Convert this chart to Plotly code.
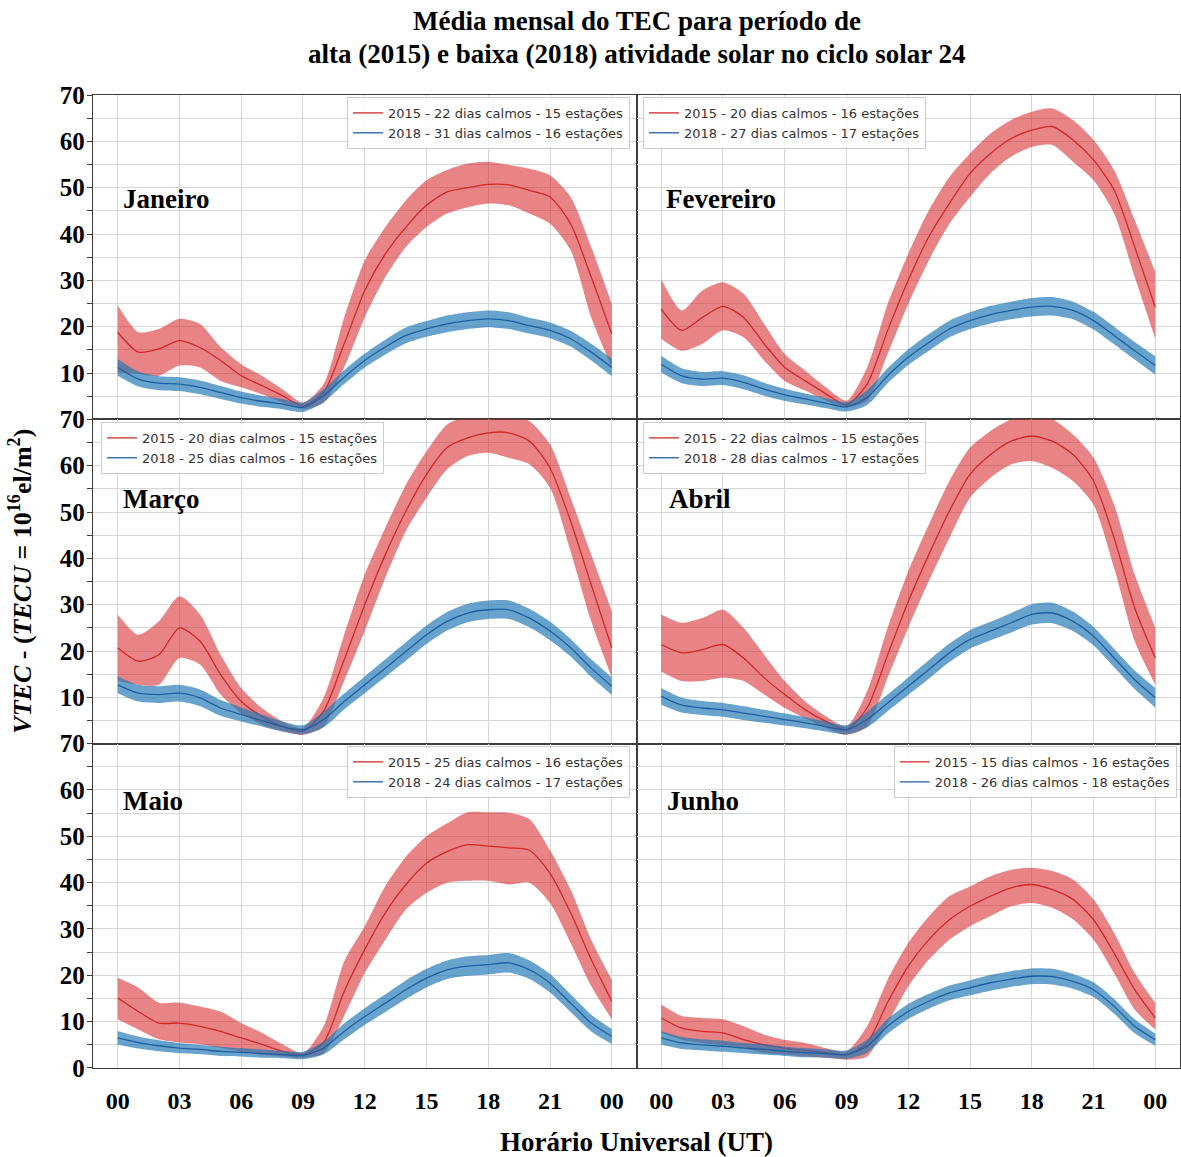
import plotly.graph_objects as go
from plotly.subplots import make_subplots

# ---------------- data ----------------
hours = list(range(25))
tick_hours = [0, 3, 6, 9, 12, 15, 18, 21, 24]
tick_labels = ["00", "03", "06", "09", "12", "15", "18", "21", "00"]
y_ticks = list(range(0, 75, 5))

months = ["Janeiro", "Fevereiro", "Março", "Abril", "Maio", "Junho"]

legend_2015 = [
    "2015 - 22 dias calmos - 15 estações",
    "2015 - 20 dias calmos - 16 estações",
    "2015 - 20 dias calmos - 15 estações",
    "2015 - 22 dias calmos - 15 estações",
    "2015 - 25 dias calmos - 16 estações",
    "2015 - 15 dias calmos - 16 estações",
]
legend_2018 = [
    "2018 - 31 dias calmos - 16 estações",
    "2018 - 27 dias calmos - 17 estações",
    "2018 - 25 dias calmos - 16 estações",
    "2018 - 28 dias calmos - 17 estações",
    "2018 - 24 dias calmos - 17 estações",
    "2018 - 26 dias calmos - 18 estações",
]

# Janeiro
jan_2015_mean = [18.8, 14.5, 15.2, 17.0, 15.5, 12.7, 9.4, 7.3, 5.1, 2.9, 5.8, 16.3, 27.8, 35.7, 41.5, 46.2, 49.1, 50.0, 50.7, 50.6, 49.4, 48.0, 42.2, 30.7, 18.4]
jan_2015_upper = [24.6, 18.8, 19.5, 21.7, 20.6, 15.6, 11.9, 9.4, 6.5, 3.6, 7.6, 22.0, 34.3, 41.5, 47.3, 51.6, 53.8, 55.2, 55.6, 54.9, 54.1, 52.7, 48.0, 37.2, 24.9]
jan_2015_lower = [10.1, 9.8, 9.4, 11.6, 11.2, 8.3, 6.9, 5.4, 3.6, 2.2, 3.6, 11.2, 22.0, 30.7, 37.2, 41.5, 44.4, 45.8, 46.6, 46.2, 44.4, 42.2, 36.5, 22.0, 11.2]
jan_2018_mean = [11.2, 8.7, 7.8, 7.6, 6.9, 5.8, 4.7, 3.9, 3.3, 2.6, 5.1, 9.1, 12.7, 15.6, 18.1, 19.5, 20.6, 21.3, 21.7, 21.3, 20.2, 19.2, 17.4, 14.5, 11.2]
jan_2018_half = [1.8, 1.6, 1.5, 1.5, 1.5, 1.4, 1.3, 1.2, 1.1, 1.0, 1.4, 1.5, 1.5, 1.6, 1.7, 1.7, 1.8, 1.8, 1.8, 1.8, 1.7, 1.7, 1.7, 1.8, 1.9]

# Fevereiro
feb_2015_mean = [23.8, 19.2, 22.0, 24.4, 22.0, 16.3, 11.2, 8.3, 5.5, 3.1, 7.6, 19.2, 30.0, 39.4, 46.6, 53.1, 57.4, 60.6, 62.4, 63.2, 60.3, 56.0, 49.5, 37.2, 24.2]
feb_2015_upper = [30.3, 23.5, 27.8, 29.6, 27.1, 20.6, 14.1, 10.5, 6.9, 4.0, 11.2, 24.9, 35.7, 45.1, 52.3, 57.4, 61.7, 64.6, 66.4, 67.1, 64.6, 60.3, 53.8, 43.0, 31.8]
feb_2015_lower = [17.4, 14.8, 16.3, 19.2, 17.7, 12.7, 8.3, 6.2, 4.0, 2.6, 4.0, 14.1, 24.9, 34.3, 42.2, 48.0, 53.1, 56.7, 58.8, 59.2, 55.6, 51.6, 44.4, 30.7, 17.4]
feb_2018_mean = [11.9, 9.4, 8.7, 8.9, 8.0, 6.5, 5.3, 4.4, 3.5, 2.7, 4.7, 9.4, 13.4, 16.6, 19.5, 21.3, 22.6, 23.5, 24.2, 24.4, 23.5, 21.3, 18.1, 14.8, 11.6]
feb_2018_half = [1.8, 1.6, 1.5, 1.5, 1.5, 1.4, 1.3, 1.2, 1.1, 1.0, 1.6, 1.6, 1.7, 1.8, 1.8, 1.8, 1.9, 1.9, 2.0, 2.0, 1.9, 1.9, 1.9, 1.9, 2.0]

# Março
mar_2015_mean = [20.7, 17.8, 19.2, 25.0, 22.1, 14.9, 9.1, 5.9, 3.7, 2.7, 7.0, 18.1, 30.0, 40.8, 50.2, 58.1, 63.9, 66.0, 67.1, 67.1, 65.3, 59.5, 48.0, 34.3, 20.7]
mar_2015_upper = [27.9, 23.5, 26.4, 31.8, 27.9, 19.2, 12.0, 7.7, 4.8, 3.4, 9.9, 23.5, 36.5, 46.6, 55.9, 63.1, 68.9, 70.7, 71.8, 71.0, 69.6, 64.6, 53.1, 40.8, 28.6]
mar_2015_lower = [13.5, 12.7, 12.7, 18.5, 17.1, 10.6, 6.6, 4.1, 2.7, 1.9, 3.7, 13.5, 24.3, 35.8, 45.9, 53.1, 59.2, 62.1, 62.8, 61.7, 60.3, 55.2, 41.5, 26.4, 14.2]
mar_2018_mean = [12.7, 10.9, 10.6, 10.9, 9.9, 7.7, 6.3, 5.0, 3.7, 3.0, 5.2, 9.1, 12.7, 16.3, 19.9, 23.5, 26.4, 28.2, 28.9, 28.9, 27.1, 24.3, 20.7, 16.3, 12.4]
mar_2018_half = [1.8, 1.8, 1.8, 1.8, 1.8, 1.7, 1.5, 1.3, 1.1, 1.0, 1.7, 1.7, 1.8, 1.9, 2.0, 2.0, 2.0, 2.0, 2.0, 2.0, 2.0, 2.0, 1.9, 1.9, 1.9]

# Abril
apr_2015_mean = [21.4, 19.6, 20.3, 21.4, 18.5, 14.2, 10.6, 7.3, 4.8, 3.0, 7.7, 19.2, 30.7, 40.8, 50.2, 58.1, 62.4, 65.3, 66.4, 65.3, 62.4, 56.7, 44.4, 29.3, 18.5]
apr_2015_upper = [27.9, 26.1, 27.1, 28.9, 25.0, 19.2, 13.5, 9.1, 5.9, 3.7, 11.3, 25.0, 37.2, 47.3, 56.7, 63.9, 67.5, 70.0, 71.0, 70.0, 66.7, 61.7, 51.6, 36.5, 25.0]
apr_2015_lower = [15.6, 13.5, 13.5, 14.2, 13.5, 10.6, 7.7, 5.5, 3.4, 1.9, 3.7, 14.2, 25.0, 35.1, 44.4, 53.1, 57.4, 60.3, 61.0, 59.5, 56.7, 51.6, 37.9, 22.1, 12.7]
apr_2018_mean = [10.2, 8.3, 7.7, 7.3, 6.6, 5.9, 5.2, 4.5, 3.7, 3.0, 5.2, 8.8, 12.4, 16.0, 19.6, 22.5, 24.3, 26.1, 27.9, 28.2, 26.4, 23.2, 18.5, 13.8, 9.9]
apr_2018_half = [1.8, 1.6, 1.5, 1.5, 1.5, 1.4, 1.3, 1.2, 1.1, 1.0, 1.7, 1.8, 1.9, 2.0, 2.0, 2.0, 2.0, 2.1, 2.2, 2.2, 2.1, 2.0, 2.0, 2.0, 2.1]

# Maio
may_2015_mean = [15.1, 12.2, 9.7, 9.7, 9.0, 7.9, 6.5, 5.1, 3.6, 2.9, 5.5, 16.5, 25.6, 33.5, 39.6, 44.2, 46.7, 48.2, 47.9, 47.5, 47.0, 42.0, 33.5, 23.4, 14.4]
may_2015_upper = [19.5, 17.4, 14.1, 14.1, 13.3, 12.2, 9.7, 7.6, 5.1, 3.2, 9.0, 23.0, 30.6, 39.3, 45.6, 50.0, 52.8, 55.2, 55.2, 55.1, 53.7, 47.0, 38.5, 27.7, 19.0]
may_2015_lower = [10.5, 8.3, 6.2, 5.5, 5.1, 4.3, 3.6, 2.9, 2.5, 2.2, 3.2, 11.2, 20.5, 27.7, 34.2, 37.8, 40.0, 40.4, 40.4, 39.6, 40.0, 35.6, 27.0, 17.7, 10.5]
may_2018_mean = [6.5, 5.5, 4.8, 4.3, 4.0, 3.6, 3.4, 3.1, 2.9, 2.7, 4.3, 7.9, 11.1, 14.0, 16.9, 19.4, 21.2, 22.0, 22.3, 22.7, 21.2, 18.3, 14.0, 9.7, 6.8]
may_2018_half = [1.5, 1.3, 1.2, 1.1, 1.0, 1.0, 0.9, 0.9, 0.8, 0.8, 1.4, 1.7, 1.8, 1.9, 2.0, 2.0, 2.0, 2.1, 2.1, 2.1, 2.0, 2.0, 1.9, 1.8, 1.6]

# Junho
jun_2015_mean = [10.8, 8.6, 7.9, 7.6, 6.1, 5.0, 4.3, 3.8, 3.3, 2.9, 5.4, 14.2, 22.0, 27.7, 32.0, 34.9, 37.1, 38.9, 39.6, 38.5, 36.4, 32.0, 24.8, 16.9, 10.8]
jun_2015_upper = [13.7, 11.2, 10.8, 10.5, 9.0, 7.2, 6.1, 5.4, 4.3, 3.6, 9.0, 19.1, 27.0, 32.7, 37.1, 39.2, 41.4, 42.8, 43.2, 42.5, 40.7, 36.4, 29.2, 20.5, 14.0]
jun_2015_lower = [7.6, 6.1, 5.4, 5.0, 4.3, 3.2, 2.9, 2.5, 2.2, 1.8, 2.5, 9.7, 17.6, 23.4, 27.7, 30.6, 32.8, 34.9, 35.6, 34.6, 32.1, 27.7, 20.5, 12.6, 8.3]
jun_2018_mean = [6.5, 5.4, 5.0, 4.7, 4.3, 4.0, 3.6, 3.3, 3.1, 2.9, 4.7, 9.0, 12.2, 14.4, 16.2, 17.3, 18.4, 19.2, 19.8, 19.7, 18.7, 16.9, 13.3, 9.0, 6.1]
jun_2018_half = [1.5, 1.3, 1.2, 1.2, 1.1, 1.1, 1.0, 1.0, 0.9, 0.9, 1.4, 1.6, 1.6, 1.6, 1.6, 1.6, 1.7, 1.7, 1.7, 1.7, 1.6, 1.6, 1.6, 1.5, 1.3]

data_2015 = [
    (jan_2015_mean, jan_2015_upper, jan_2015_lower),
    (feb_2015_mean, feb_2015_upper, feb_2015_lower),
    (mar_2015_mean, mar_2015_upper, mar_2015_lower),
    (apr_2015_mean, apr_2015_upper, apr_2015_lower),
    (may_2015_mean, may_2015_upper, may_2015_lower),
    (jun_2015_mean, jun_2015_upper, jun_2015_lower),
]
data_2018 = [
    (jan_2018_mean, jan_2018_half),
    (feb_2018_mean, feb_2018_half),
    (mar_2018_mean, mar_2018_half),
    (apr_2018_mean, apr_2018_half),
    (may_2018_mean, may_2018_half),
    (jun_2018_mean, jun_2018_half),
]

# ---------------- styling ----------------
RED = "#d62728"
RED_FILL = "rgba(214,39,40,0.57)"
BLUE = "#1f5f9f"
BLUE_FILL = "rgba(31,119,180,0.68)"
SERIF = "Liberation Serif"
SANS = "DejaVu Sans"
GRID = "#d6d6d6"
FRAME = "#3c3c3c"

month_label_pos = [(0.17, 47.5), (0.14, 47.5), (0.17, 52.9), (0.29, 52.9), (0.17, 57.7), (0.19, 57.7)]
legend_pos = [
    dict(x=0.494, xanchor="right", y=0.998),
    dict(x=0.506, xanchor="left", y=0.998),
    dict(x=0.0074, xanchor="left", y=0.664),
    dict(x=0.506, xanchor="left", y=0.664),
    dict(x=0.494, xanchor="right", y=0.331),
    dict(x=0.997, xanchor="right", y=0.331),
]

fig = make_subplots(rows=3, cols=2, horizontal_spacing=0, vertical_spacing=0)

for i in range(6):
    r, c = i // 2 + 1, i % 2 + 1
    leg = "legend" if i == 0 else f"legend{i + 1}"
    m15, u15, l15 = data_2015[i]
    m18, h18 = data_2018[i]
    u18 = [m + h for m, h in zip(m18, h18)]
    l18 = [m - h for m, h in zip(m18, h18)]
    shape = dict(shape="spline", smoothing=0.7)

    fig.add_trace(go.Scatter(x=hours, y=u15, mode="lines", line=dict(width=0, color=RED, **shape),
                             showlegend=False, hoverinfo="skip"), row=r, col=c)
    fig.add_trace(go.Scatter(x=hours, y=l15, mode="lines", line=dict(width=0, color=RED, **shape),
                             fill="tonexty", fillcolor=RED_FILL, showlegend=False, hoverinfo="skip"), row=r, col=c)
    fig.add_trace(go.Scatter(x=hours, y=m15, mode="lines", line=dict(width=1.3, color=RED, **shape),
                             name=legend_2015[i], legend=leg), row=r, col=c)
    fig.add_trace(go.Scatter(x=hours, y=u18, mode="lines", line=dict(width=0, color=BLUE, **shape),
                             showlegend=False, hoverinfo="skip"), row=r, col=c)
    fig.add_trace(go.Scatter(x=hours, y=l18, mode="lines", line=dict(width=0, color=BLUE, **shape),
                             fill="tonexty", fillcolor=BLUE_FILL, showlegend=False, hoverinfo="skip"), row=r, col=c)
    fig.add_trace(go.Scatter(x=hours, y=m18, mode="lines", line=dict(width=1.3, color=BLUE, **shape),
                             name=legend_2018[i], legend=leg), row=r, col=c)

    fig.add_annotation(text=months[i], x=month_label_pos[i][0], y=month_label_pos[i][1],
                       xref=f"x{i + 1}" if i else "x", yref=f"y{i + 1}" if i else "y",
                       xanchor="left", yanchor="middle", showarrow=False,
                       font=dict(family=SERIF, size=27, color="black", weight="bold"))

    fig.update_xaxes(range=[-1.2, 25.2], tickvals=tick_hours, ticktext=tick_labels,
                     showticklabels=(r == 3), ticks="", ticklabelstandoff=11,
                     tickfont=dict(family=SERIF, size=24, color="black", weight="bold"),
                     showgrid=True, gridcolor=GRID, gridwidth=1, zeroline=False,
                     showline=True, mirror=True, linecolor=FRAME, linewidth=1.4,
                     row=r, col=c)
    ytext = [str(v) if v % 10 == 0 else "" for v in y_ticks]
    if r < 3:
        ytext[0] = ""
    fig.update_yaxes(range=[0, 70], tickvals=y_ticks, ticktext=ytext,
                     showticklabels=(c == 1), ticks="outside" if c == 1 else "", ticklen=5,
                     tickcolor=FRAME, ticklabelstandoff=-3,
                     tickfont=dict(family=SERIF, size=25, color="black", weight="bold"),
                     showgrid=True, gridcolor=GRID, gridwidth=1, zeroline=False,
                     showline=True, mirror=True, linecolor=FRAME, linewidth=1.4,
                     row=r, col=c)

layout_legends = {}
for i in range(6):
    key = "legend" if i == 0 else f"legend{i + 1}"
    layout_legends[key] = dict(
        **legend_pos[i], yanchor="top", bgcolor="rgba(255,255,255,0.85)",
        bordercolor="#cccccc", borderwidth=1, itemwidth=30, tracegroupgap=0,
        traceorder="normal",
        font=dict(family=SANS, size=13, color="#333333"),
    )

fig.update_layout(
    width=1181, height=1157,
    margin=dict(l=93, r=1, t=95, b=89),
    plot_bgcolor="white", paper_bgcolor="white",
    **layout_legends,
)

# title and axis titles
fig.add_annotation(text="Média mensal do TEC para período de",
                   xref="paper", yref="paper", x=0.5, y=1.076, xanchor="center", yanchor="middle",
                   showarrow=False, font=dict(family=SERIF, size=27, color="black", weight="bold"))
fig.add_annotation(text="alta (2015) e baixa (2018) atividade solar no ciclo solar 24",
                   xref="paper", yref="paper", x=0.5, y=1.042, xanchor="center", yanchor="middle",
                   showarrow=False, font=dict(family=SERIF, size=27, color="black", weight="bold"))
fig.add_annotation(text="Horário Universal (UT)", xref="paper", yref="paper", x=0.5, y=-0.076,
                   xanchor="center", yanchor="middle", showarrow=False,
                   font=dict(family=SERIF, size=27, color="black", weight="bold"))
fig.add_annotation(text="<i>VTEC</i> - (<i>TECU</i> = 10<sup>16</sup>el/m<sup>2</sup>)",
                   xref="paper", yref="paper", x=-0.067, y=0.5, textangle=-90,
                   xanchor="center", yanchor="middle", showarrow=False,
                   font=dict(family=SERIF, size=26, color="black", weight="bold"))

fig.write_html("out.html", config={"displayModeBar": False},
               post_script="document.body.style.margin='0px';")
